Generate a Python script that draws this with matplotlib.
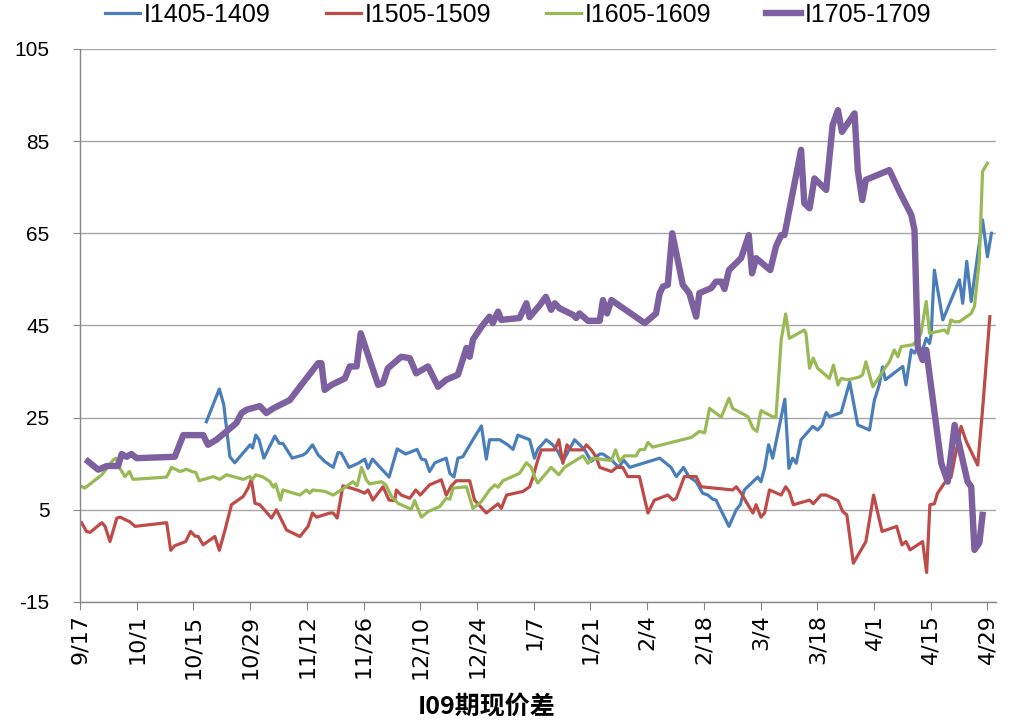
import matplotlib
matplotlib.use("Agg")
import matplotlib.pyplot as plt

# days counted from 9/17
tick_days = list(range(0, 225, 14))
tick_labels = ["9/17", "10/1", "10/15", "10/29", "11/12", "11/26", "12/10", "12/24",
               "1/7", "1/21", "2/4", "2/18", "3/4", "3/18", "4/1", "4/15", "4/29"]

i1405_day = [31.2, 34.4, 35.5, 37, 38.2, 42, 42.6, 43.4, 44.2, 45.4, 48.1, 49.2, 50.1, 52.4,
             55.1, 55.9, 57.4, 58.8, 60.4, 62.5, 63.7, 64.5, 66.4, 68.7, 70.3, 71.1, 72.2,
             76.3, 78.3, 80.4, 83.2, 84.3, 85.3, 86.3, 87.6, 90.4, 91.3, 92.3, 93.3, 94.5,
             97, 99.1, 100.3, 101.1, 103.6, 105.6, 106.9, 108.1, 111, 112.2, 113, 115.1,
             116.7, 118, 119.2, 122.1, 124.6, 126.2, 128.3, 129.1, 131.2, 133, 134.2, 135.7,
             143.1, 145.9, 147.2, 149, 150.3, 152.1, 153.7, 155, 156.2, 157, 160.2, 162, 163,
             164, 167.3, 168.1, 169, 170, 171, 174, 175, 175.9, 176.8, 178, 180.9, 182.1,
             183.2, 184.2, 185, 187.9, 190, 192, 194.9, 196.1, 197.3, 198.1, 198.8, 203.1,
             203.9, 205.2, 206, 206.8, 208, 208.9, 209.7, 210.1, 210.9, 213, 217.1, 217.9,
             218.9, 220, 222.8, 224, 225]
i1405_val = [24.1, 31.2, 27.8, 16.5, 15.2, 19.1, 18.4, 21.2, 20.2, 16.2, 21.0, 19.4, 19.4, 16.2,
             16.9, 17.4, 19.1, 16.9, 15.5, 14.2, 17.4, 17.3, 14.2, 15.1, 16.0, 14.0, 16.0,
             12.1, 18.2, 17.1, 18.1, 16.0, 15.8, 13.3, 15.2, 16.2, 12.9, 12.1, 16.2, 16.5,
             20.2, 23.2, 16.0, 20.2, 20.2, 19.1, 18.1, 21.2, 20.2, 16.2, 18.1, 20.2,
             19.1, 17.6, 15.5, 20.2, 18.0, 15.5, 17.1, 17.1, 15.8, 14.2, 15.8, 14.2,
             16.2, 14.2, 12.2, 14.2, 12.2, 11.1, 8.6, 8.2, 7.3, 7.1, 1.4, 5.0, 6.1,
             9.3, 12.1, 11.1, 14.0, 19.1, 16.2, 29.0, 14.0, 16.2, 15.1, 20.2, 23.1, 22.3,
             23.4, 26.1, 25.2, 26.1, 32.7, 23.4, 22.3, 28.8, 32.1, 36.0, 33.2, 36.1,
             32.1, 39.7, 39.0, 40.4, 39.7, 42.2, 41.1, 42.9, 57.0, 46.2, 54.9, 49.8,
             58.9, 50.2, 67.9, 59.9, 65.0]

i1505_day = [0.4, 1.6, 2.5, 5.4, 6.2, 7.4, 9.1, 9.9, 12.3, 13.6, 21.4, 22.4, 23.4, 26.1, 27.3,
             28.4, 29.2, 30.4, 33.3, 34.4, 35.8, 37.4, 40.3, 41.5, 42.3, 43.2, 44.4, 47.3,
             48.5, 51, 54.3, 56.3, 57.4, 58.4, 61.7, 62.5, 63.5, 64.9, 65.8, 68.7, 70.3,
             71.1, 72.3, 74.8, 76.3, 77.7, 78.1, 79.3, 81.4, 82.9, 84, 86.3, 89.2, 90.4,
             91.7, 92.9, 96.2, 97.4, 100.3, 103.2, 104, 105.3, 109.4, 111, 111.8, 113,
             113.9, 117.2, 118.2, 119.2, 120.2, 121.3, 124.2, 125, 126.2, 127.4, 128.3,
             131.2, 132.5, 134, 135.2, 138.1, 140.2, 141.8, 145.1, 146.4, 147.2, 149.2,
             152.1, 153.3, 161.1, 162, 163.2, 166.1, 166.9, 168.1, 169, 170.2, 173.1,
             174.2, 175.1, 176.1, 180.1, 181, 182.9, 184.2, 187.1, 188.3, 189.3, 190.9,
             194, 195.9, 198, 201.6, 202.9, 203.9, 204.9, 208, 209, 209.8, 210.9, 211.7,
             213.4, 215, 217.5, 218.8, 221.6, 222.8, 224.6]
i1505_val = [2.2, 0.3, 0.1, 2.2, 1.4, -1.9, 3.2, 3.4, 2.4, 1.4, 2.2, -3.8, -2.8, -1.9, 0.3,
             -0.7, -0.8, -2.6, -0.8, -3.8, 0.6, 6.1, 7.9, 9.7, 11.6, 6.4, 6.1, 3.2,
             5.0, 0.6, -0.8, 1.4, 4.3, 3.4, 4.3, 4.3, 3.2, 10.2, 10.0, 9.2, 8.6,
             9.3, 7.1, 10.0, 7.1, 7.0, 9.3, 8.2, 7.5, 9.3, 8.2, 10.4, 11.5, 8.2,
             10.2, 11.3, 11.3, 7.1, 4.3, 6.3, 5.3, 8.2, 9.0, 10.0, 12.0, 15.8,
             18.0, 18.0, 20.2, 15.1, 19.1, 18.0, 18.0, 19.1, 18.0, 16.5, 14.2,
             13.3, 14.2, 14.2, 12.2, 12.2, 4.3, 7.1, 8.2, 7.1, 7.5, 12.2,
             12.2, 10.0, 9.3, 10.0, 8.6, 4.3, 6.1, 3.4, 4.3, 9.3, 8.2,
             10.0, 8.9, 6.1, 7.1, 6.3, 8.2, 8.2, 7.0, 4.6, 3.9, -6.6,
             -1.9, 8.2, 0.3, 1.4, -2.6, -1.9, -3.7, -1.9, -8.6, 6.1, 6.3, 8.6,
             10.8, 12.0, 23.1, 19.8, 14.7, 26.7, 46.9]

i1605_day = [0, 1.2, 5.4, 8.2, 8.9, 9.4, 11.1, 12.2, 13.1, 21.4, 22.6, 24.7, 26.3, 27.6, 28.6,
             29.4, 32.9, 34.5, 36.2, 40.3, 41.9, 42.6, 43.4, 45.2, 46.9, 47.7, 48.3, 49.5,
             50.1, 54.3, 55.9, 56.7, 57.5, 60.4, 62.5, 64.5, 67.4, 68.4, 69.5, 70.7, 71.5,
             74.4, 75.5, 76.9, 78.5, 81.8, 82.6, 84.3, 85.9, 88.8, 90.4, 91.3, 92.1, 95.4,
             97, 99.1, 101.1, 102.4, 103.2, 104.4, 108.5, 110.2, 111.4, 112.2, 113, 116.3,
             118.2, 119.6, 124.2, 125.4, 126.6, 131.2, 132.2, 133.2, 134.4, 137.3, 138.1,
             139.4, 140.2, 141.4, 150.9, 152.9, 154.2, 155.4, 158.3, 160.2, 161.1, 164.9,
             166.1, 167.1, 168.1, 171, 171.8, 173.1, 174.2, 175.1, 178.8, 179.2, 180.1,
             181, 182.1, 185, 186, 187.1, 187.9, 189.6, 192.4, 193.2, 194, 195.7, 199,
             199.8, 201, 201.9, 202.7, 205.6, 206.4, 207.6, 208.9, 209.7, 213.4, 214.2,
             215, 215.8, 217.1, 220, 220.8, 222, 222.8, 224]
i1605_val = [10.2, 9.7, 12.6, 15.8, 16.2, 14.7, 12.2, 13.3, 11.6, 12.1, 14.2, 13.3, 13.8, 13.3, 13.1,
             11.3, 12.2, 11.6, 12.6, 11.6, 12.2, 11.6, 12.6, 12.1, 11.1, 9.9, 10.6, 7.1,
             9.3, 8.2, 9.3, 8.6, 9.3, 9.0, 8.2, 9.3, 11.1, 10.2, 14.2, 11.5, 10.6,
             11.1, 10.4, 7.9, 6.4, 5.1, 7.0, 3.4, 4.6, 5.7, 7.5, 7.3, 9.7, 10.0,
             5.3, 6.8, 9.3, 10.4, 9.9, 11.3, 12.9, 15.2, 14.2, 12.2, 10.8, 14.2,
             12.6, 14.2, 16.7, 15.1, 16.2, 15.7, 18.0, 15.5, 16.7, 16.7, 18.0,
             18.1, 19.6, 18.6, 20.7, 22.0, 21.7, 27.0, 25.1, 29.2, 27.0, 25.2,
             22.7, 22.0, 26.5, 25.2, 25.0, 41.9, 47.5, 42.2, 44.0, 43.3, 35.7,
             37.9, 35.7, 33.5, 36.4, 32.1, 33.5, 33.2, 33.8, 34.3, 37.1, 31.7, 36.1,
             37.1, 39.7, 38.2, 40.4, 40.8, 41.5, 43.3, 50.2, 43.3, 44.0, 43.3,
             46.2, 45.8, 45.8, 47.6, 49.1, 59.2, 78.4, 80.2]

i1705_day = [2, 4.5, 6.6, 9.4, 10.3, 11.5, 12.7, 14, 23.4, 25.5, 30.4, 31.6, 33.7, 38.6, 39.9,
             41.1, 44.4, 46, 47.7, 51.8, 55, 58.8, 59.6, 60.4, 62.1, 65.4, 66.6, 68.3, 69.3,
             73.6, 74.8, 76, 79.3, 81.4, 83, 85.9, 88.4, 90.4, 93.3, 95.4, 96.2, 97, 99.1,
             101.1, 101.9, 103.2, 104, 108.5, 110.2, 111, 113.5, 115, 116.3, 117.2, 118.4,
             121.7, 122.5, 123.3, 125.4, 128.3, 129.1, 130.1, 131.2, 139.4, 142.2, 143.1,
             143.9, 145.1, 146.2, 148.8, 150.4, 152.1, 152.9, 155.8, 157, 158.3, 159.1,
             160.2, 163.2, 165.1, 165.9, 166.9, 170.4, 171.8, 173.1, 173.9, 178, 178.8,
             180.1, 181.3, 184.2, 185.8, 187.1, 188.1, 191.2, 192, 193.1, 194, 199.8,
             202.3, 205.2, 206, 206.8, 208, 208.9, 212.6, 214.2, 215.9, 217.5, 219.1, 220,
             220.8, 222, 222.8]
i1705_val = [15.5, 13.7, 14.5, 14.5, 17.1, 16.5, 17.1, 16.2, 16.5, 21.2, 21.2, 19.1, 20.2, 23.8, 26.0,
             26.7, 27.5, 26.0, 27.0, 28.8, 32.5, 36.8, 36.8, 31.0, 32.1, 33.5, 36.1, 36.1, 43.3,
             32.1, 32.5, 35.7, 38.2, 37.9, 34.6, 36.1, 31.7, 33.2, 34.3, 40.1, 38.2, 41.9, 44.7,
             46.9, 45.5, 48.0, 46.2, 46.6, 49.8, 46.8, 49.4, 51.2, 48.4, 49.8, 48.7,
             47.3, 46.6, 47.6, 46.0, 46.0, 50.5, 47.6, 50.5, 45.5, 47.6, 52.0,
             53.4, 53.8, 65.0, 53.8, 52.0, 46.9, 52.0, 53.1, 54.5, 54.5, 52.9,
             57.0, 59.6, 64.6, 56.3, 59.6, 57.0, 62.1, 64.6, 64.6, 83.1, 71.5,
             70.4, 76.9, 74.4, 88.5, 91.7, 87.0, 91.0, 78.7, 72.2, 76.6, 78.7,
             74.0, 69.0, 65.7, 40.4, 37.5, 39.7, 15.1, 11.1, 23.4, 17.3, 11.1, 10.0,
             -3.7, -2.2, 3.9]

y_ticks = [-15, 5, 25, 45, 65, 85, 105]

label_font = ["Liberation Sans", "DejaVu Sans"]

fig = plt.figure(figsize=(10.2, 7.25), dpi=100)
ax = fig.add_axes([0.0784, 0.1697, 0.8976, 0.7629])

ax.plot(i1405_day, i1405_val, color="#4A7EBB", lw=2.3, label="I1405-1409")
ax.plot(i1505_day, i1505_val, color="#BE4B48", lw=2.3, label="I1505-1509")
ax.plot(i1605_day, i1605_val, color="#98B954", lw=2.3, label="I1605-1609")
ax.plot(i1705_day, i1705_val, color="#7D60A0", lw=4.6, label="I1705-1709",
        solid_joinstyle="round")

ax.set_xlim(0, 226)
ax.set_ylim(-15, 105)
ax.set_yticks(y_ticks)
ax.set_yticklabels([str(v) for v in y_ticks], fontfamily=label_font, fontsize=15)
ax.set_xticks(tick_days)
ax.set_xticklabels(tick_labels, rotation=90, fontfamily="DejaVu Sans", fontsize=16, va="top")
ax.yaxis.grid(True, color="#A6A6A6", lw=1.0)
ax.set_axisbelow(True)
for side in ["top", "right"]:
    ax.spines[side].set_visible(False)
for side in ["left", "bottom"]:
    ax.spines[side].set_color("#868686")
    ax.spines[side].set_linewidth(1.0)
ax.tick_params(axis="y", length=5, color="#868686", pad=17)
ax.tick_params(axis="x", length=6, color="#868686", pad=3)

fig.legend(loc="center", bbox_to_anchor=(0.508, 1 - 15 / 725), ncol=4, frameon=False,
           prop={"family": label_font, "size": 18}, handlelength=1.4,
           handletextpad=0.15, columnspacing=2.2)

fig.text(487 / 1020, 1 - 707 / 725, "I09期现价差", ha="center", va="center",
         fontsize=18, fontweight="bold", family=["Noto Sans CJK SC", "DejaVu Sans"])

fig.savefig("out.png", dpi=100)
